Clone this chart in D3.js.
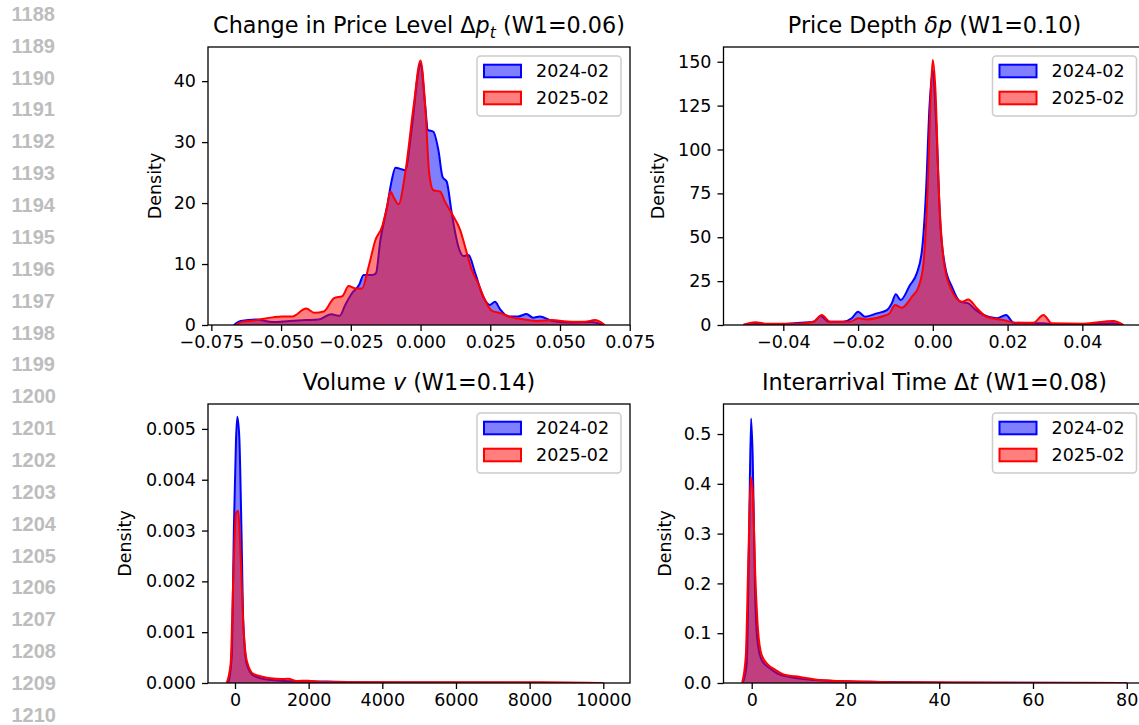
<!DOCTYPE html>
<html lang="en">
<head>
  <meta charset="utf-8">
  <title>KDE comparison</title>
  <style>
    body { margin: 0; background: #fff; }
    svg { display: block; font-family: "DejaVu Sans", sans-serif; }
  </style>
</head>
<body>
  <div id="chart"></div>

  <script src="https://d3js.org/d3.v7.min.js"></script>
  <script type="text/javascript">
    // values, [x, density]
    const seriesNames = ['2024-02', '2025-02'];
    const seriesColors = ['#0000ff', '#ff0000'];

    const priceLevel2024 = [
      [-0.0669, 0], [-0.0645, 0.65], [-0.059, 0.9], [-0.053, 0.5], [-0.047, 0.65], [-0.041, 0.8],
      [-0.0365, 0.9], [-0.032, 1.75], [-0.029, 1.5], [-0.027, 3.3], [-0.0246, 5.2], [-0.022, 6.6],
      [-0.0204, 8.2], [-0.0174, 8.2], [-0.016, 8.5], [-0.0144, 13.9], [-0.012, 19.4], [-0.0103, 23.8],
      [-0.009, 25.8], [-0.0055, 25.4], [-0.0031, 32.5], [-0.0007, 41.8], [0, 42.9], [0.0017, 35.8],
      [0.0026, 32], [0.0046, 31.7], [0.0064, 28.7], [0.0079, 24.3], [0.0094, 23.5], [0.0112, 18.3],
      [0.0136, 12.8], [0.0154, 11.3], [0.0172, 11.5], [0.0196, 8.5], [0.0225, 4.6], [0.0249, 3.3],
      [0.0267, 3.8], [0.0285, 2.6], [0.0315, 1.4], [0.035, 1.4], [0.038, 1.8], [0.0404, 1.2],
      [0.0428, 1.4], [0.047, 0.7], [0.054, 0.4], [0.0613, 0.5], [0.0655, 0]
    ];
    const priceLevel2025 = [
      [-0.0663, 0], [-0.064, 0.55], [-0.059, 0.8], [-0.053, 1.25], [-0.0496, 1.4], [-0.046, 1.4],
      [-0.041, 2.7], [-0.038, 2.0], [-0.0347, 2.2], [-0.031, 4.4], [-0.028, 4.75], [-0.0258, 6.4],
      [-0.0234, 6.0], [-0.021, 6.0], [-0.0186, 9.6], [-0.0162, 13.9], [-0.0138, 16.1], [-0.012, 19.4],
      [-0.0108, 21.9], [-0.0097, 21.0], [-0.0079, 19.8], [-0.0055, 24.9], [-0.0025, 35.8], [0, 43.4],
      [0.0017, 35.8], [0.0031, 24.9], [0.0046, 22.1], [0.007, 21.9], [0.0088, 20.2], [0.0112, 18.3],
      [0.0142, 15.6], [0.016, 12.8], [0.0184, 9.0], [0.0207, 6.8], [0.0231, 4.1], [0.0255, 2.35],
      [0.029, 1.9], [0.0327, 1.25], [0.0374, 0.9], [0.0422, 0.65], [0.047, 0.8], [0.054, 0.55],
      [0.0589, 0.55], [0.0625, 0.8], [0.066, 0]
    ];

    const depth2024 = [
      [-0.0507, 0], [-0.048, 0.95], [-0.0444, 0.6], [-0.04, 0.6], [-0.0355, 1.3], [-0.0319, 1.9],
      [-0.03, 5.1], [-0.0279, 1.9], [-0.024, 1.9], [-0.0217, 3.8], [-0.02, 7.6], [-0.0181, 4.7],
      [-0.015, 6.6], [-0.0123, 8.5], [-0.011, 12.3], [-0.0099, 17.5], [-0.0086, 14.2], [-0.0061, 22.8],
      [-0.0043, 29.4], [-0.0029, 42.7], [-0.0018, 76.9], [-0.0009, 124], [0, 145], [0.0009, 115],
      [0.002, 58], [0.0033, 33.2], [0.0051, 21.8], [0.0073, 13.3], [0.0095, 12.3], [0.0113, 8.9],
      [0.0136, 5.7], [0.0171, 3.8], [0.0196, 5.7], [0.0216, 1.3], [0.0269, 0.95], [0.0296, 0.95],
      [0.0323, 0.6], [0.0403, 0.6], [0.0483, 0.95], [0.051, 0]
    ];
    const depth2025 = [
      [-0.0507, 0], [-0.0475, 1.5], [-0.0444, 0.75], [-0.0364, 0.75], [-0.0319, 1.9], [-0.0297, 5.7],
      [-0.0275, 1.9], [-0.0221, 1.9], [-0.02, 3.8], [-0.0177, 3.2], [-0.0132, 5.1], [-0.0116, 6.6],
      [-0.0101, 11.4], [-0.0083, 9.9], [-0.0056, 16.1], [-0.0038, 21.8], [-0.0025, 35.1], [-0.0014, 76.9],
      [-0.0005, 134], [0, 151], [0.0007, 134], [0.0016, 76.9], [0.0029, 37], [0.0046, 21.8],
      [0.0078, 13.3], [0.0095, 14.6], [0.0118, 9.5], [0.0144, 4.7], [0.0189, 2.8], [0.0225, 1.3],
      [0.0269, 1.3], [0.0296, 5.7], [0.0318, 0.95], [0.0403, 0.75], [0.0483, 2.3], [0.051, 0]
    ];

    const volume2024 = [
      [-181, 0], [-90, 0.00051], [-27, 0.00314], [27, 0.00478], [63, 0.00524], [118, 0.00482],
      [172, 0.00314], [226, 0.00117], [317, 0.00038], [498, 0.00015], [860, 0.00007], [1765, 0.00003],
      [2489, 0.00003], [3575, 0.00001], [10000, 0]
    ];
    const volume2025 = [
      [-226, 0], [-118, 0.00038], [-45, 0.00209], [27, 0.00334], [90, 0.00339], [154, 0.00248],
      [226, 0.00117], [317, 0.00045], [498, 0.00018], [860, 0.000105], [1131, 0.000085], [1357, 0.000079],
      [1448, 0.000085], [1674, 0.00004], [1991, 0.000046], [2308, 0.00002], [4480, 0.000013],
      [8100, 0.000013], [10000, 0]
    ];

    const interarrival2024 = [
      [-1.92, 0], [-1.07, 0.039], [-0.57, 0.287], [-0.14, 0.531], [0.21, 0.454], [0.71, 0.186],
      [1.21, 0.086], [2.13, 0.046], [3.91, 0.029], [5.33, 0.020], [8.18, 0.012], [11.7, 0.0074],
      [17.4, 0.004], [28.1, 0.002], [42.3, 0.0007], [80, 0]
    ];
    const interarrival2025 = [
      [-2.06, 0], [-1.28, 0.052], [-0.71, 0.253], [-0.21, 0.413], [0.21, 0.387], [0.78, 0.213],
      [1.35, 0.106], [2.13, 0.056], [3.56, 0.036], [4.98, 0.027], [6.76, 0.017], [10.3, 0.012],
      [13.9, 0.0067], [21.0, 0.0034], [35.2, 0.0013], [80, 0]
    ];

    const xTicksPrice = [-0.075, -0.05, -0.025, 0, 0.025, 0.05, 0.075];
    const yTicksPrice = [0, 10, 20, 30, 40];
    const xTicksDepth = [-0.04, -0.02, 0, 0.02, 0.04];
    const yTicksDepth = [0, 25, 50, 75, 100, 125, 150];
    const xTicksVolume = [0, 2000, 4000, 6000, 8000, 10000];
    const yTicksVolume = [0, 0.001, 0.002, 0.003, 0.004, 0.005];
    const xTicksTime = [0, 20, 40, 60, 80];
    const yTicksTime = [0, 0.1, 0.2, 0.3, 0.4, 0.5];

    const lineNumbers = d3.range(1188, 1211);

    const width = 1139;
    const height = 725;
    const fs = 17.5;

    const panels = [
      {
        box: { left: 208, right: 630, top: 47, bottom: 325 },
        xDomain: [-0.0762, 0.0751], yDomain: [0, 45.6],
        xTicks: xTicksPrice, yTicks: yTicksPrice, xFmt: '.3f', yFmt: 'd',
        series: [priceLevel2024, priceLevel2025],
        title: [['Change in Price Level Δ'], ['p', 'it'], ['t', 'sub'], [' (W1=0.06)']],
        ylabelX: 155
      },
      {
        box: { left: 723.5, right: 1145.5, top: 47, bottom: 325 },
        xDomain: [-0.056, 0.0569], yDomain: [0, 158.4],
        xTicks: xTicksDepth, yTicks: yTicksDepth, xFmt: '.2f', yFmt: 'd',
        series: [depth2024, depth2025],
        title: [['Price Depth '], ['δp', 'it'], [' (W1=0.10)']],
        ylabelX: 658
      },
      {
        box: { left: 208, right: 630, top: 404, bottom: 683 },
        xDomain: [-733, 10725], yDomain: [0, 0.00549],
        xTicks: xTicksVolume, yTicks: yTicksVolume, xFmt: 'd', yFmt: '.3f',
        series: [volume2024, volume2025],
        title: [['Volume '], ['v', 'it'], [' (W1=0.14)']],
        ylabelX: 125
      },
      {
        box: { left: 723.5, right: 1145.5, top: 404, bottom: 683 },
        xDomain: [-6.02, 84.0], yDomain: [0, 0.5603],
        xTicks: xTicksTime, yTicks: yTicksTime, xFmt: 'd', yFmt: '.1f',
        series: [interarrival2024, interarrival2025],
        title: [['Interarrival Time Δ'], ['t', 'it'], [' (W1=0.08)']],
        ylabelX: 665
      }
    ];

    const svg = d3.select('#chart').append('svg')
      .attr('width', width)
      .attr('height', height)
      .attr('viewBox', [0, 0, width, height]);

    // line numbers down the left margin
    svg.append('g')
      .selectAll('text')
      .data(lineNumbers)
      .enter()
      .append('text')
      .attr('x', 11.5)
      .attr('y', (d, i) => 13.7 + i * 31.86)
      .attr('dy', '0.36em')
      .style('font-family', '"Liberation Sans", Arial, sans-serif')
      .style('font-weight', 'bold')
      .style('font-size', '20px')
      .style('fill', '#bdbdbd')
      .text(d => d);

    panels.forEach((p, pi) => {
      const b = p.box;
      const x = d3.scaleLinear().domain(p.xDomain).range([b.left, b.right]);
      const y = d3.scaleLinear().domain(p.yDomain).range([b.bottom, b.top]);
      const g = svg.append('g').attr('class', 'panel');

      const clipId = 'clip' + pi;
      g.append('clipPath').attr('id', clipId)
        .append('rect')
        .attr('x', b.left).attr('y', b.top)
        .attr('width', b.right - b.left).attr('height', b.bottom - b.top);

      const area = d3.area()
        .x(d => x(d[0]))
        .y0(y(0))
        .y1(d => y(d[1]))
        .curve(d3.curveMonotoneX);
      const line = d3.line()
        .x(d => x(d[0]))
        .y(d => y(d[1]))
        .curve(d3.curveMonotoneX);

      const marks = g.append('g').attr('clip-path', `url(#${clipId})`);
      p.series.forEach((s, si) => {
        marks.append('path')
          .attr('d', area(s))
          .attr('fill', seriesColors[si])
          .attr('fill-opacity', 0.5);
        marks.append('path')
          .attr('d', line(s))
          .attr('fill', 'none')
          .attr('stroke', seriesColors[si])
          .attr('stroke-width', 2)
          .attr('stroke-linejoin', 'round');
      });

      const xAxis = d3.axisBottom(x)
        .tickValues(p.xTicks)
        .tickFormat(d3.format(p.xFmt))
        .tickSize(6).tickSizeOuter(0).tickPadding(5);
      const yAxis = d3.axisLeft(y)
        .tickValues(p.yTicks)
        .tickFormat(d3.format(p.yFmt))
        .tickSize(6).tickSizeOuter(0).tickPadding(6);

      const gx = g.append('g')
        .attr('transform', `translate(0,${b.bottom})`)
        .call(xAxis);
      const gy = g.append('g')
        .attr('transform', `translate(${b.left},0)`)
        .call(yAxis);
      [gx, gy].forEach(a => {
        a.select('.domain').remove();
        a.selectAll('.tick line').attr('stroke', '#000').attr('stroke-width', 1.3);
        a.selectAll('.tick text')
          .style('font-family', '"DejaVu Sans", sans-serif')
          .style('font-size', fs + 'px')
          .attr('fill', '#000');
      });

      // frame
      g.append('rect')
        .attr('x', b.left).attr('y', b.top)
        .attr('width', b.right - b.left).attr('height', b.bottom - b.top)
        .attr('fill', 'none')
        .attr('stroke', '#000')
        .attr('stroke-width', 1.3);

      // title with math-style pieces
      const t = g.append('text')
        .attr('x', (b.left + b.right) / 2)
        .attr('y', b.top - 14)
        .attr('text-anchor', 'middle')
        .style('font-size', '22.3px')
        .attr('fill', '#000');
      p.title.forEach((part, k) => {
        const ts = t.append('tspan').text(part[0]);
        if (part[1] === 'it') ts.style('font-style', 'italic');
        if (part[1] === 'sub') {
          ts.style('font-style', 'italic').style('font-size', '15.6px').attr('dy', 4.5);
        }
        const prev = p.title[k - 1];
        if (prev && prev[1] === 'sub') ts.attr('dy', -4.5);
      });

      // y label
      g.append('text')
        .attr('transform', `translate(${p.ylabelX},${(b.top + b.bottom) / 2}) rotate(-90)`)
        .attr('text-anchor', 'middle')
        .attr('dy', '0.35em')
        .style('font-size', fs + 'px')
        .attr('fill', '#000')
        .text('Density');

      // legend
      const lg = g.append('g')
        .attr('transform', `translate(${b.right - 9 - 144},${b.top + 9})`);
      lg.append('rect')
        .attr('width', 144).attr('height', 60)
        .attr('rx', 3.5)
        .attr('fill', '#fff').attr('fill-opacity', 0.8)
        .attr('stroke', '#cccccc').attr('stroke-width', 1.5);
      seriesNames.forEach((name, si) => {
        const cy = 15 + si * 27;
        lg.append('rect')
          .attr('x', 7).attr('y', cy - 6.3)
          .attr('width', 37).attr('height', 12.6)
          .attr('fill', seriesColors[si]).attr('fill-opacity', 0.5)
          .attr('stroke', seriesColors[si]).attr('stroke-width', 2);
        lg.append('text')
          .attr('x', 59).attr('y', cy)
          .attr('dy', '0.36em')
          .style('font-size', fs + 'px')
          .attr('fill', '#000')
          .text(name);
      });
    });
  </script>
</body>
</html>
